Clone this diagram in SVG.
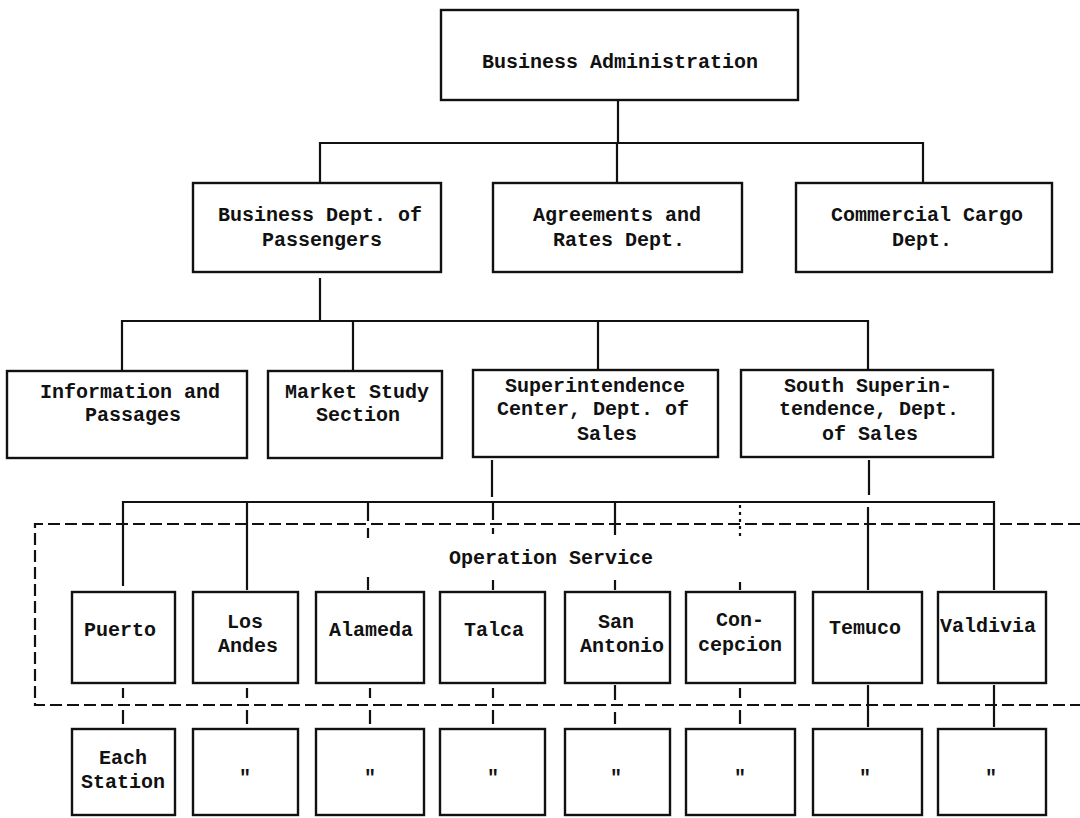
<svg xmlns="http://www.w3.org/2000/svg" width="1080" height="818" viewBox="0 0 1080 818">
<style>
.box{fill:#fff;stroke:#111;stroke-width:2.4}
.ln{fill:none;stroke:#111;stroke-width:2.2}
.dash{fill:none;stroke:#111;stroke-width:2.2;stroke-dasharray:12 5}
.dot{fill:none;stroke:#111;stroke-width:2.2;stroke-dasharray:3 4}
text{font-family:"Liberation Mono","Courier New",monospace;font-size:20px;font-weight:bold;fill:#111;text-anchor:middle}
</style>
<rect width="1080" height="818" fill="#fff"/>
<g id="connectors">
<path class="ln" d="M618,100V143M320,183V143H923V183M617,143V183"/>
<path class="ln" d="M320,278V321M122,371V321H868V371M353,321V371M598,321V371"/>
<path class="ln" d="M492,460V497M869,460V495"/>
<path class="ln" d="M123,586V502H994V590M247,502V590M868,507V590"/>
<path class="ln" d="M368,502V521M368,528V538M368,577V590M493,502V520M493,528V534M493,580V590M615,502V535M615,580V590M740,582V590"/>
<path class="dot" d="M740,505V536"/>
<path class="dash" d="M1080,524H35V705H1080"/>
<path class="ln" d="M123,688V698M123,710V724M247,688V698M247,710V724M370,688V698M370,710V724M493,688V698M493,710V724M615,685V700M615,712V724M740,688V698M740,710V724M868,685V727M994,685V727"/>
</g>
<g id="n-admin"><rect class="box" x="441" y="10" width="357" height="90"/><text x="620" y="68">Business Administration</text></g>
<g id="n-passengers"><rect class="box" x="193" y="183" width="248" height="89"/><text x="320" y="221">Business Dept. of</text><text x="322" y="246">Passengers</text></g>
<g id="n-agreements"><rect class="box" x="493" y="183" width="249" height="89"/><text x="617" y="221">Agreements and</text><text x="619" y="246">Rates Dept.</text></g>
<g id="n-cargo"><rect class="box" x="796" y="183" width="256" height="89"/><text x="927" y="221">Commercial Cargo</text><text x="922" y="246">Dept.</text></g>
<g id="n-info"><rect class="box" x="7" y="371" width="240" height="87"/><text x="130" y="398">Information and</text><text x="133" y="421">Passages</text></g>
<g id="n-market"><rect class="box" x="268" y="371" width="174" height="87"/><text x="357" y="398">Market Study</text><text x="358" y="421">Section</text></g>
<g id="n-center"><rect class="box" x="473" y="370" width="245" height="87"/><text x="595" y="392">Superintendence</text><text x="593" y="415">Center, Dept. of</text><text x="607" y="440">Sales</text></g>
<g id="n-south"><rect class="box" x="741" y="370" width="252" height="87"/><text x="868" y="392">South Superin-</text><text x="869" y="415">tendence, Dept.</text><text x="870" y="440">of Sales</text></g>
<g id="n-ops"><text x="551" y="564">Operation Service</text></g>
<g id="n-puerto"><rect class="box" x="72" y="592" width="103" height="91"/><text x="120" y="636">Puerto</text></g>
<g id="n-losandes"><rect class="box" x="193" y="592" width="105" height="91"/><text x="245" y="628">Los</text><text x="248" y="652">Andes</text></g>
<g id="n-alameda"><rect class="box" x="316" y="592" width="108" height="91"/><text x="371" y="636">Alameda</text></g>
<g id="n-talca"><rect class="box" x="440" y="592" width="105" height="91"/><text x="494" y="636">Talca</text></g>
<g id="n-sanantonio"><rect class="box" x="565" y="592" width="105" height="91"/><text x="616" y="628">San</text><text x="622" y="652">Antonio</text></g>
<g id="n-concepcion"><rect class="box" x="686" y="592" width="109" height="91"/><text x="740" y="626">Con-</text><text x="740" y="651">cepcion</text></g>
<g id="n-temuco"><rect class="box" x="813" y="592" width="109" height="91"/><text x="865" y="634">Temuco</text></g>
<g id="n-valdivia"><rect class="box" x="938" y="592" width="108" height="91"/><text x="988" y="632">Valdivia</text></g>
<g id="n-st1"><rect class="box" x="72" y="729" width="103" height="86"/><text x="123" y="764">Each</text><text x="123" y="788">Station</text></g>
<g id="n-st2"><rect class="box" x="193" y="729" width="105" height="86"/><text x="245" y="784">"</text></g>
<g id="n-st3"><rect class="box" x="316" y="729" width="108" height="86"/><text x="370" y="784">"</text></g>
<g id="n-st4"><rect class="box" x="440" y="729" width="105" height="86"/><text x="493" y="784">"</text></g>
<g id="n-st5"><rect class="box" x="565" y="729" width="105" height="86"/><text x="616" y="784">"</text></g>
<g id="n-st6"><rect class="box" x="686" y="729" width="109" height="86"/><text x="740" y="784">"</text></g>
<g id="n-st7"><rect class="box" x="813" y="729" width="109" height="86"/><text x="865" y="784">"</text></g>
<g id="n-st8"><rect class="box" x="938" y="729" width="108" height="86"/><text x="991" y="784">"</text></g>
</svg>
